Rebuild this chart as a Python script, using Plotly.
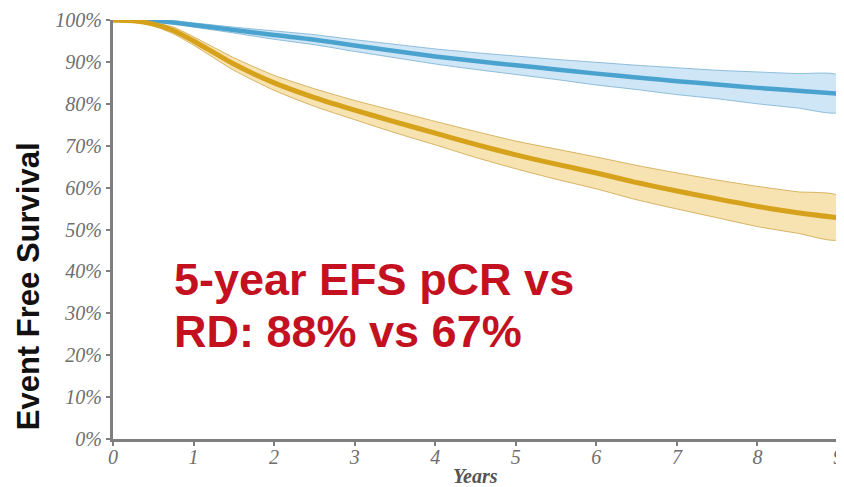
import plotly.graph_objects as go

years = [0, 0.25, 0.5, 0.75, 1, 1.5, 2, 2.5, 3, 3.5, 4, 4.5, 5, 5.5, 6, 6.5, 7, 7.5, 8, 8.5, 9]

# pCR (blue)
pcr_mid = [100, 100, 99.8, 99.4, 98.8, 97.6, 96.4, 95.3, 93.9, 92.6, 91.3, 90.2, 89.2, 88.2, 87.2, 86.3, 85.4, 84.6, 83.8, 83.1, 82.4]
pcr_up = [100, 100, 100, 99.8, 99.3, 98.3, 97.4, 96.5, 95.3, 94.2, 93.1, 92.2, 91.4, 90.6, 89.9, 89.2, 88.6, 88.0, 87.6, 87.2, 86.8]
pcr_lo = [100, 100, 99.6, 99.0, 98.3, 96.9, 95.4, 94.1, 92.5, 91.0, 89.5, 88.2, 87.0, 85.8, 84.5, 83.4, 82.2, 81.2, 80.0, 79.0, 78.0]

# RD (gold)
rd_mid = [100, 99.8, 99.0, 97.5, 95.0, 89.5, 85.0, 81.5, 78.5, 75.7, 73.0, 70.3, 67.8, 65.6, 63.5, 61.2, 59.2, 57.3, 55.5, 54.0, 52.8]
rd_up = [100, 100, 99.4, 98.3, 96.0, 91.0, 86.8, 83.6, 80.8, 78.3, 75.8, 73.4, 71.1, 69.2, 67.3, 65.3, 63.5, 61.8, 60.3, 59.0, 58.0]
rd_lo = [100, 99.6, 98.6, 96.7, 94.0, 88.0, 83.2, 79.4, 76.2, 73.1, 70.2, 67.2, 64.5, 62.0, 59.7, 57.1, 54.9, 52.8, 50.7, 49.1, 47.6]

y_ticks = [0, 10, 20, 30, 40, 50, 60, 70, 80, 90, 100]
y_tick_labels = [f"{v}%" for v in y_ticks]
x_ticks = list(range(0, 10))

fig = go.Figure()

def band(up, lo, fillc, linec):
    fig.add_trace(go.Scatter(
        x=years + years[::-1], y=up + lo[::-1], mode="lines",
        fill="toself", fillcolor=fillc,
        line=dict(color=linec, width=1, shape="spline", smoothing=0.6),
        hoverinfo="skip", showlegend=False))

band(pcr_up, pcr_lo, "rgba(198,226,244,0.85)", "rgba(120,175,210,0.8)")
band(rd_up, rd_lo, "rgba(246,222,165,0.85)", "rgba(205,165,70,0.8)")

fig.add_trace(go.Scatter(x=years, y=pcr_mid, mode="lines",
                         line=dict(color="#4aa2cf", width=4.5, shape="spline", smoothing=0.6),
                         showlegend=False))
fig.add_trace(go.Scatter(x=years, y=rd_mid, mode="lines",
                         line=dict(color="#d6a21c", width=5, shape="spline", smoothing=0.6),
                         showlegend=False))

tick_font = dict(family="Liberation Serif", size=20, color="#6e6e6e")

fig.update_xaxes(range=[0, 9], tickvals=x_ticks, ticktext=[f"<i>{v}</i>" for v in x_ticks],
                 showline=True, linecolor="#7f7f7f", linewidth=3, ticks="outside",
                 ticklen=4, tickwidth=1.5, tickcolor="#7f7f7f", tickfont=tick_font,
                 ticklabelstandoff=-6, showgrid=False, zeroline=False)
fig.update_yaxes(range=[0, 100], tickvals=y_ticks, ticktext=[f"<i>{t}</i>" for t in y_tick_labels],
                 showline=True, linecolor="#7f7f7f", linewidth=3, ticks="outside",
                 ticklen=4, tickwidth=1.5, tickcolor="#7f7f7f", tickfont=tick_font,
                 showgrid=False, zeroline=False)

fig.add_annotation(text="<b>Event Free Survival</b>", xref="paper", yref="paper",
                   x=-0.117, y=0.365, xanchor="center", yanchor="middle", textangle=-90,
                   showarrow=False, font=dict(family="Liberation Sans", size=31, color="#111111"))
fig.add_annotation(text="<b><i>Years</i></b>", xref="paper", yref="paper",
                   x=0.5, y=-0.088, xanchor="center", yanchor="middle",
                   showarrow=False, font=dict(family="Liberation Serif", size=20, color="#555555"))
fig.add_annotation(text="<b>5-year EFS pCR vs</b>", xref="paper", yref="paper",
                   x=0.081, y=0.446, xanchor="left", yanchor="top", align="left",
                   showarrow=False, font=dict(family="Liberation Sans", size=45, color="#c3111f"))
fig.add_annotation(text="<b>RD: 88% vs 67%</b>", xref="paper", yref="paper",
                   x=0.081, y=0.322, xanchor="left", yanchor="top", align="left",
                   showarrow=False, font=dict(family="Liberation Sans", size=45, color="#c3111f"))

# page body adds an 8px margin, so the figure is sized to fit the 844x487 window
fig.update_layout(width=836, height=479,
                  margin=dict(l=105, r=6, t=12, b=48, autoexpand=False),
                  plot_bgcolor="white", paper_bgcolor="white", showlegend=False)

fig.write_html("out.html")
